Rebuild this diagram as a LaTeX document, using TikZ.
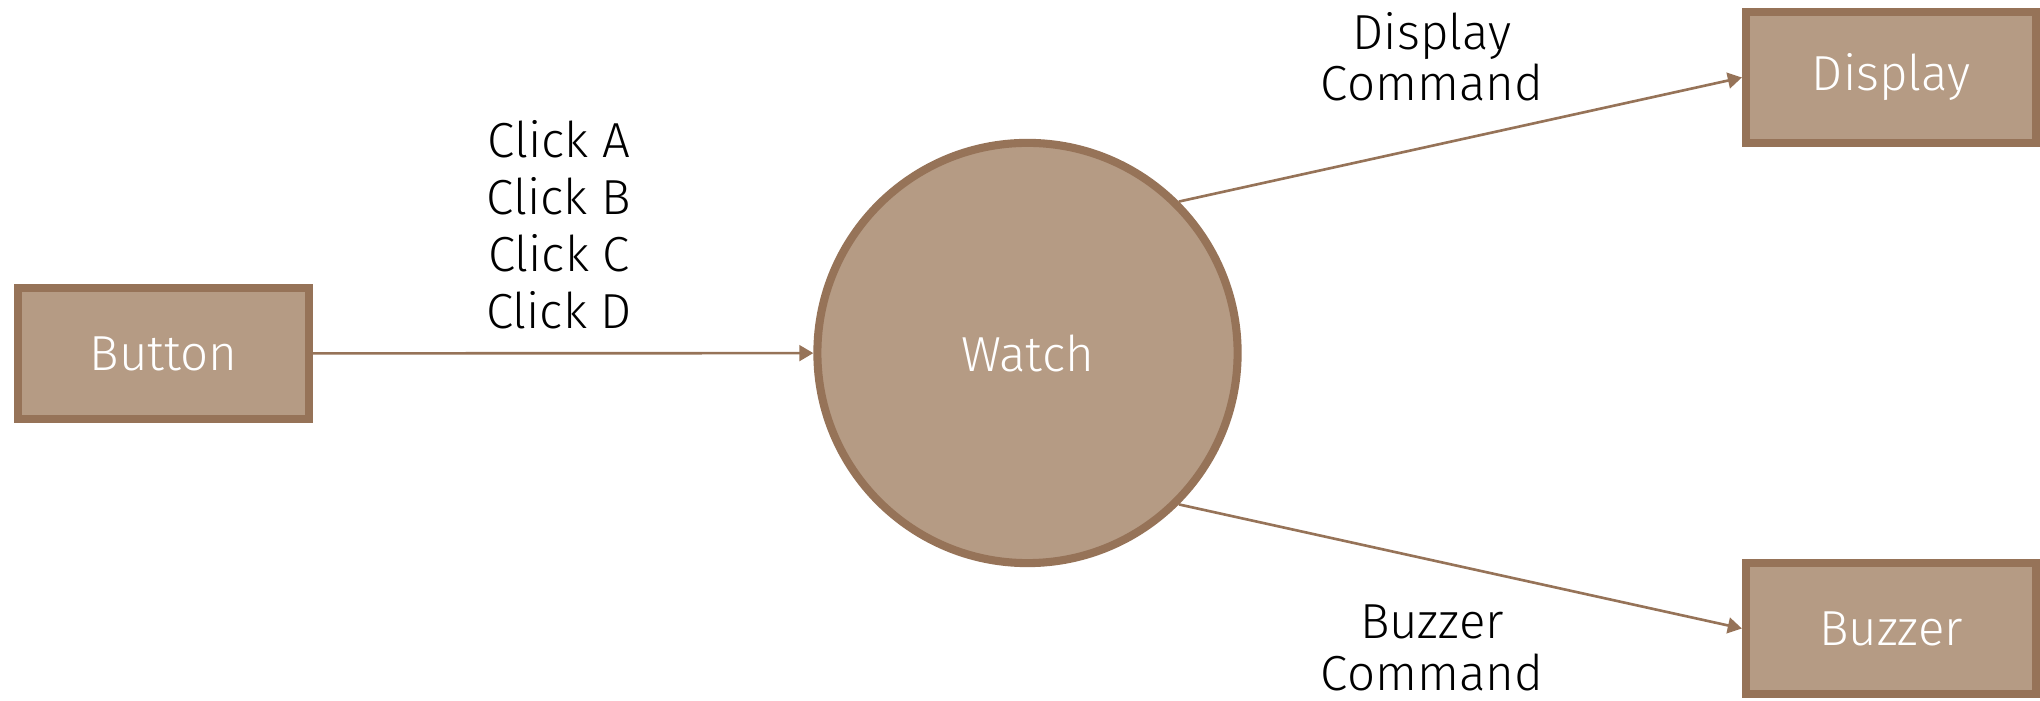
\documentclass[tikz,border=0pt]{standalone}
\usepackage{fontspec}
\setmainfont{Fira Sans Light}
\usepackage{tikz}
\usetikzlibrary{arrows.meta}
\definecolor{boxfill}{RGB}{181,155,132}
\definecolor{boxedge}{RGB}{150,115,88}
\tikzset{
  term/.style={draw=boxedge,fill=boxfill,line width=2.3pt,text=white,
    minimum width=2.9cm,minimum height=1.31cm,font=\fontsize{14}{16}\selectfont},
  proc/.style={circle,draw=boxedge,fill=boxfill,line width=2.3pt,text=white,
    minimum size=4.2cm,font=\fontsize{14}{16}\selectfont},
  flow/.style={draw=boxedge,line width=0.75pt},
  lbl/.style={align=center,inner sep=0pt}
}

\begin{document}
\begin{tikzpicture}[x=0.01cm,y=-0.01cm,>={Triangle[length=4pt,width=4.5pt]}]
\useasboundingbox (0,0) rectangle (2040,701);
\node[term] (button) at (163.5,353.5) {Button};
\node[proc] (watch) at (1027.5,353) {Watch};
\node[term] (display) at (1891,77.5) {Display};
\node[term] (buzzer) at (1891,628.5) {Buzzer};
\draw[flow,->] (button) -- (watch);
\draw[flow,->] (watch.45) -- (display.west);
\draw[flow,->] (watch.-45) -- (buzzer.west);
\node[lbl,font=\fontsize{14}{16.2}\selectfont] (clicks) at (559,225) {Click A\\Click B\\Click C\\Click D};
\node[lbl,font=\fontsize{14}{14.6}\selectfont] (dispcmd) at (1432,57) {Display\\Command};
\node[lbl,font=\fontsize{14}{14.6}\selectfont] (buzzcmd) at (1432,648) {Buzzer\\Command};
\end{tikzpicture}
\end{document}
